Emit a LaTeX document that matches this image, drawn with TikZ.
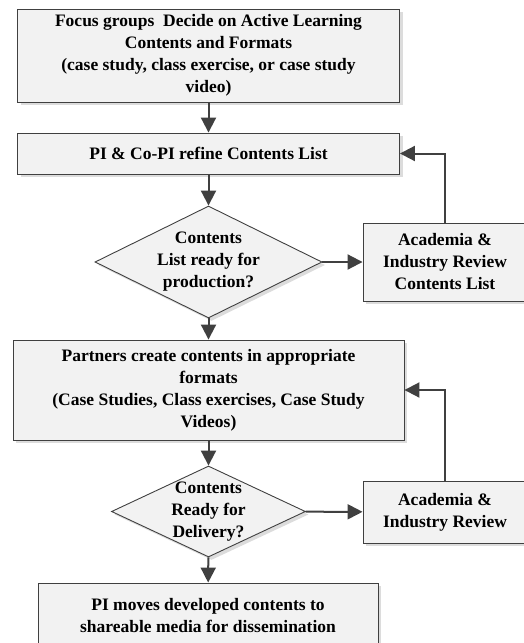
\documentclass[tikz,border=0pt]{standalone}
\usepackage{fontspec}
\setmainfont{Liberation Serif}
\usetikzlibrary{shapes.geometric,arrows.meta,shadows}
\definecolor{edge}{HTML}{404040}
\definecolor{boxfill}{HTML}{F2F2F2}
\definecolor{shade}{HTML}{DCDCDC}
\tikzset{
  base/.style={draw=edge, line width=0.9pt, fill=boxfill,
    drop shadow={shadow xshift=3pt, shadow yshift=-3pt, fill=shade, opacity=1}},
  procbox/.style={base, rectangle, inner sep=0pt},
  decbox/.style={base, diamond, inner sep=0pt},
  lbl/.style={font=\fontsize{17.5}{22}\selectfont\bfseries, align=center, text=black},
  flow/.style={draw=edge, line width=2pt, -{Triangle[length=15pt,width=15pt]}}
}
\begin{document}
\begin{tikzpicture}[x=1pt,y=-1pt]
\useasboundingbox (0,0) rectangle (524,643);
\node[procbox, minimum width=382pt, minimum height=93pt] (b1) at (208.5,55.5) {};
\node[lbl] (t1) at (b1.center) {Focus groups\ \ Decide on Active Learning\\Contents and Formats\\(case study, class exercise, or case study\\video)};
\node[procbox, minimum width=382pt, minimum height=41pt] (b2) at (208.5,153.5) {};
\node[lbl] (t2) at (b2.center) {PI \& Co-PI refine Contents List};
\node[decbox, minimum width=227pt, minimum height=112pt] (d1) at (208.5,262) {};
\node[lbl] (t3) at (d1.center) {Contents\\List ready for\\production?};
\node[procbox, minimum width=164pt, minimum height=78pt] (b3) at (445,262) {};
\node[lbl] (t4) at (b3.center) {Academia \&\\Industry Review\\Contents List};
\node[procbox, minimum width=391pt, minimum height=100pt] (b4) at (208.5,390) {};
\node[lbl] (t5) at (b4.center) {Partners create contents in appropriate\\formats\\(Case Studies, Class exercises, Case Study\\Videos)};
\node[decbox, minimum width=194pt, minimum height=91pt] (d2) at (208.5,511.5) {};
\node[lbl] (t6) at (d2.center) {Contents\\Ready for\\Delivery?};
\node[procbox, minimum width=164pt, minimum height=62pt] (b5) at (445,512) {};
\node[lbl] (t7) at (b5.center) {Academia \&\\Industry Review};
\node[procbox, minimum width=340pt, minimum height=72pt] (b6) at (208,619) {};
\node[lbl] (t8) at (208,616) {PI moves developed contents to\\shareable media for dissemination};
\draw[flow] (b1) -- (b2);
\draw[flow] (b2) -- (d1);
\draw[flow] (d1) -- (b3);
\draw[flow] (b3.north) |- (b2.east);
\draw[flow] (d1) -- (b4);
\draw[flow] (b4) -- (d2);
\draw[flow] (d2) -- (b5);
\draw[flow] (b5.north) |- (b4.east);
\draw[flow] (d2) -- (b6);
\end{tikzpicture}
\end{document}
